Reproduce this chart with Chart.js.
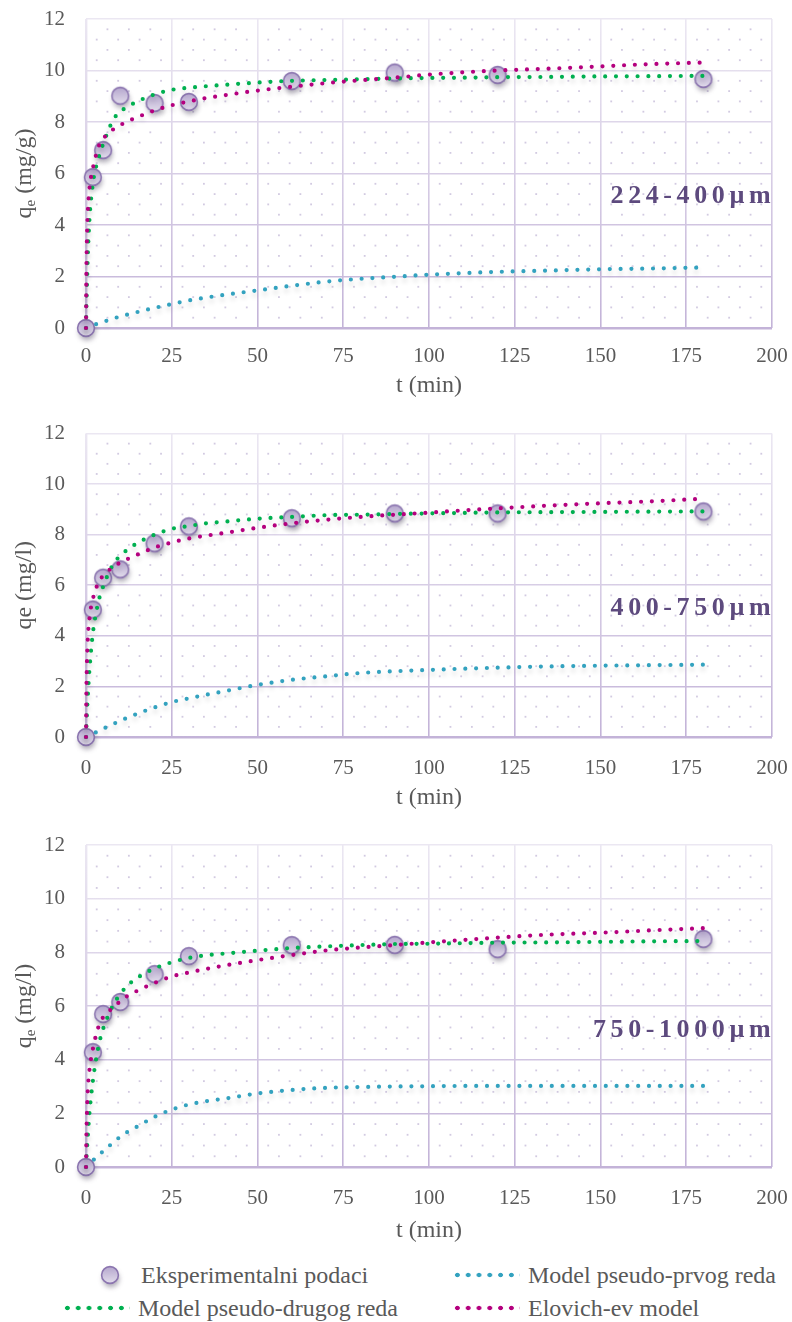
<!DOCTYPE html>
<html>
<head>
<meta charset="utf-8">
<script src="https://cdn.jsdelivr.net/npm/chart.js@4.4.0/dist/chart.umd.min.js"></script>
<style>
html, body { margin: 0; padding: 0; background: #fff; }
body { width: 792px; height: 1322px; position: relative; overflow: hidden; font-family: "Liberation Serif", "DejaVu Serif", serif; color: #595959; }
canvas.panel { position: absolute; left: 0; }
.legend-item { position: absolute; display: flex; align-items: center; height: 30px; font-size: 24px; white-space: nowrap; }
.legend-item img { width: 40px; height: 40px; margin-right: 11px; }
.dots { width: 68px; height: 6px; margin-right: 8px; background-repeat: repeat-x; background-size: 10.8px 6px; }
</style>
</head>
<body>
<canvas class="panel" id="c1" width="792" height="400" style="top:0"></canvas>
<canvas class="panel" id="c2" width="792" height="412" style="top:400px"></canvas>
<canvas class="panel" id="c3" width="792" height="433" style="top:812px"></canvas>

<div class="legend-item" style="left:90px;top:1260px"><img id="legendMarker" alt=""><span>Eksperimentalni podaci</span></div>
<div class="legend-item" style="left:452px;top:1260px"><span class="dots" id="dotsPfo"></span><span>Model pseudo-prvog reda</span></div>
<div class="legend-item" style="left:62px;top:1293px"><span class="dots" id="dotsPso"></span><span>Model pseudo-drugog reda</span></div>
<div class="legend-item" style="left:452px;top:1293px"><span class="dots" id="dotsElo"></span><span>Elovich-ev model</span></div>

<script>
	"use strict";

	// x (min) / y ticks
	const xTicks = [0, 25, 50, 75, 100, 125, 150, 175, 200];
	const yTicks = [0, 2, 4, 6, 8, 10, 12];

	// experimental points
	const expTime = [0, 2, 5, 10, 20, 30, 60, 90, 120, 180];
	const exp224 = [0, 5.86, 6.91, 9.02, 8.74, 8.78, 9.59, 9.92, 9.83, 9.67];
	const exp400 = [0, 5.04, 6.3, 6.63, 7.66, 8.33, 8.65, 8.84, 8.84, 8.92];
	const exp750 = [0, 4.28, 5.7, 6.15, 7.19, 7.86, 8.27, 8.28, 8.12, 8.5];

	// model curves at these times
	const modelTime = [0, 0.1, 0.25, 0.5, 1, 2, 3, 4, 5, 6, 8, 10, 12, 15, 20, 25, 30, 35, 40, 50, 60, 70, 80, 90, 100, 110, 120, 135, 150, 165, 180];

	const pfo224 = [0, 0.005, 0.012, 0.025, 0.05, 0.1, 0.15, 0.19, 0.24, 0.28, 0.37, 0.45, 0.52, 0.62, 0.78, 0.93, 1.07, 1.18, 1.28, 1.46, 1.64, 1.8, 1.91, 1.99, 2.07, 2.13, 2.18, 2.23, 2.28, 2.31, 2.35];
	const pso224 = [0, 0.7, 1.5, 2.7, 4.2, 5.6, 6.3, 6.75, 7.15, 7.5, 8.1, 8.4, 8.58, 8.8, 9.07, 9.25, 9.33, 9.39, 9.44, 9.53, 9.6, 9.63, 9.66, 9.69, 9.71, 9.72, 9.74, 9.75, 9.77, 9.78, 9.79];
	const elo224 = [0, 2.0, 3.3, 4.4, 5.4, 6.2, 6.75, 7.15, 7.35, 7.5, 7.72, 7.88, 8.02, 8.19, 8.45, 8.65, 8.8, 8.93, 9.03, 9.22, 9.37, 9.51, 9.62, 9.72, 9.84, 9.93, 10.0, 10.07, 10.16, 10.25, 10.31];

	const pfo400 = [0, 0.006, 0.016, 0.03, 0.065, 0.13, 0.19, 0.26, 0.33, 0.39, 0.52, 0.64, 0.76, 0.92, 1.17, 1.38, 1.53, 1.67, 1.8, 2.06, 2.26, 2.4, 2.53, 2.6, 2.65, 2.7, 2.74, 2.79, 2.82, 2.84, 2.86];
	const pso400 = [0, 0.35, 0.85, 1.55, 2.65, 4.1, 4.95, 5.55, 5.95, 6.3, 6.85, 7.17, 7.4, 7.67, 8.0, 8.23, 8.34, 8.45, 8.51, 8.63, 8.7, 8.77, 8.79, 8.82, 8.84, 8.86, 8.88, 8.89, 8.9, 8.91, 8.92];
	const elo400 = [0, 1.6, 2.8, 3.8, 4.7, 5.45, 5.9, 6.2, 6.38, 6.52, 6.72, 6.9, 7.03, 7.21, 7.49, 7.69, 7.85, 7.96, 8.06, 8.27, 8.45, 8.59, 8.7, 8.79, 8.87, 8.96, 9.04, 9.15, 9.24, 9.32, 9.42];

	const pfo750 = [0, 0.012, 0.03, 0.06, 0.12, 0.24, 0.36, 0.47, 0.59, 0.7, 0.92, 1.13, 1.3, 1.51, 1.87, 2.14, 2.33, 2.45, 2.54, 2.74, 2.87, 2.95, 2.98, 3.0, 3.01, 3.02, 3.02, 3.02, 3.02, 3.02, 3.02];
	const pso750 = [0, 0.25, 0.6, 1.1, 2.0, 3.2, 4.06, 4.7, 5.15, 5.5, 6.05, 6.45, 6.75, 7.05, 7.4, 7.63, 7.79, 7.89, 7.95, 8.06, 8.16, 8.22, 8.27, 8.31, 8.32, 8.34, 8.36, 8.37, 8.39, 8.41, 8.42];
	const elo750 = [0, 1.0, 1.9, 2.8, 3.6, 4.4, 4.95, 5.35, 5.58, 5.72, 5.95, 6.18, 6.37, 6.57, 6.86, 7.1, 7.25, 7.38, 7.5, 7.71, 7.9, 8.07, 8.18, 8.27, 8.37, 8.46, 8.55, 8.66, 8.73, 8.82, 8.9];

	const sizeLabels = ['224-400µm', '400-750µm', '750-1000µm'];

	const GREEN = '#00b050';
	const MAGENTA = '#b4007e';
	const TEAL = '#33a2bf';
	const TEXT = '#595959';
	const FONT = '"Liberation Serif", "DejaVu Serif", serif';

	const panels = [
		{ id: 'c1', plotTop: 19, plotBottom: 328, tickPad: 16, titlePad: 0, exp: exp224, pfo: pfo224, pso: pso224, elo: elo224, label: sizeLabels[0], yTitle: [['q', false], ['e', true], [' (mg/g)', false]] },
		{ id: 'c2', plotTop: 33.5, plotBottom: 337, tickPad: 19, titlePad: 0, exp: exp400, pfo: pfo400, pso: pso400, elo: elo400, label: sizeLabels[1], yTitle: [['qe (mg/l)', false]] },
		{ id: 'c3', plotTop: 33, plotBottom: 355, tickPad: 19, titlePad: 0, exp: exp750, pfo: pfo750, pso: pso750, elo: elo750, label: sizeLabels[2], yTitle: [['q', false], ['e', true], [' (mg/l)', false]] }
	];

	// marker image used for the experimental points and the legend
	function makeMarker() {
		const c = document.createElement('canvas');
		c.width = 40; c.height = 40;
		const g = c.getContext('2d');
		const grad = g.createLinearGradient(0, 11, 0, 29);
		grad.addColorStop(0, '#b3a4cc');
		grad.addColorStop(1, '#e4dfed');
		g.shadowColor = 'rgba(50,40,70,0.38)';
		g.shadowBlur = 5;
		g.shadowOffsetX = 1;
		g.shadowOffsetY = 4;
		g.beginPath();
		g.arc(20, 20, 8.4, 0, Math.PI * 2);
		g.fillStyle = grad;
		g.fill();
		g.shadowColor = 'transparent';
		g.lineWidth = 1.6;
		g.strokeStyle = '#8c76b0';
		g.stroke();
		return c;
	}
	const marker = makeMarker();

	function pairs(xs, ys) {
		return xs.map((x, i) => ({ x: x, y: ys[i] }));
	}

	function curve(label, values, color, order) {
		return {
			label: label,
			data: pairs(modelTime, values),
			showLine: true,
			borderColor: color,
			backgroundColor: color,
			borderWidth: 4.2,
			borderDash: [0, 10.8],
			borderCapStyle: 'round',
			pointRadius: 0,
			cubicInterpolationMode: 'monotone',
			fill: false,
			clip: false,
			order: order
		};
	}

	function gridColor(ctx) {
		const chart = ctx.chart;
		const a = chart.chartArea;
		if (!a) return '#ddd6e8';
		const g = chart.ctx.createLinearGradient(0, a.top, 0, a.bottom);
		g.addColorStop(0, '#ebe7f2');
		g.addColorStop(1, '#c3b3d8');
		return g;
	}

	// staggered dot pattern inside the plot area
	const gridDots = {
		id: 'gridDots',
		beforeDatasetsDraw(chart) {
			const ctx = chart.ctx;
			const xs = chart.scales.x, ys = chart.scales.y;
			ctx.save();
			ctx.fillStyle = 'rgba(165,150,195,0.5)';
			for (let j = 1; j < 30; j++) {
				if (j % 5 === 0) continue;
				const py = ys.getPixelForValue(j * 0.4);
				for (let i = 1 + (j % 2); i < 64; i += 2) {
					if (i % 8 === 0) continue;
					const px = xs.getPixelForValue(i * 25 / 8);
					ctx.fillRect(px - 0.9, py - 0.9, 1.8, 1.8);
				}
			}
			ctx.restore();
		}
	};

	// soft shadow under the model curves
	const lineShadow = {
		id: 'lineShadow',
		beforeDatasetDraw(chart, args) {
			if (!chart.data.datasets[args.index].showLine) return;
			const ctx = chart.ctx;
			ctx.save();
			ctx.shadowColor = 'rgba(0,0,0,0.16)';
			ctx.shadowBlur = 5;
			ctx.shadowOffsetY = 4;
		},
		afterDatasetDraw(chart, args) {
			if (!chart.data.datasets[args.index].showLine) return;
			chart.ctx.restore();
		}
	};

	// y title with subscript + size label
	const extraText = {
		id: 'extraText',
		afterDraw(chart, args, opts) {
			const ctx = chart.ctx;
			const a = chart.chartArea;
			const xs = chart.scales.x, ys = chart.scales.y;

			ctx.save();
			const big = '24px ' + FONT, small = '15px ' + FONT;
			let total = 0;
			opts.yTitle.forEach(p => {
				ctx.font = p[1] ? small : big;
				total += ctx.measureText(p[0]).width;
			});
			ctx.translate(23, (a.top + a.bottom) / 2);
			ctx.rotate(-Math.PI / 2);
			ctx.fillStyle = TEXT;
			ctx.textBaseline = 'alphabetic';
			let x = -total / 2;
			opts.yTitle.forEach(p => {
				ctx.font = p[1] ? small : big;
				ctx.fillText(p[0], x, p[1] ? 12 : 8);
				x += ctx.measureText(p[0]).width;
			});
			ctx.restore();

			ctx.save();
			const spacing = 4.6;
			ctx.font = 'bold 26px ' + FONT;
			ctx.letterSpacing = spacing + 'px';
			ctx.fillStyle = '#5d4a7e';
			ctx.textAlign = 'left';
			ctx.textBaseline = 'middle';
			const w = ctx.measureText(opts.label).width - spacing;
			ctx.fillText(opts.label, xs.getPixelForValue(199.6) - w, ys.getPixelForValue(5.1));
			ctx.restore();
		}
	};

	panels.forEach(p => {
		const canvas = document.getElementById(p.id);
		const h = canvas.height;
		new Chart(canvas, {
			type: 'scatter',
			data: {
				datasets: [
					{
						label: 'Eksperimentalni podaci',
						data: pairs(expTime, p.exp),
						pointStyle: marker,
						pointRadius: 9,
						clip: false,
						order: 4
					},
					curve('Model pseudo-prvog reda', p.pfo, TEAL, 3),
					curve('Model pseudo-drugog reda', p.pso, GREEN, 2),
					curve('Elovich-ev model', p.elo, MAGENTA, 1)
				]
			},
			options: {
				responsive: false,
				animation: false,
				events: [],
				layout: { autoPadding: false, padding: { top: p.plotTop, right: 20, left: 0, bottom: 0 } },
				scales: {
					x: {
						type: 'linear',
						min: 0,
						max: 200,
						afterBuildTicks: s => { s.ticks = xTicks.map(v => ({ value: v })); },
						// fixed axis height, no extra label overhang
						afterFit: s => { s.height = h - p.plotBottom; s.paddingLeft = 0; s.paddingRight = 0; },
						grid: { color: gridColor, lineWidth: c => c.tick && c.tick.value === 0 ? 2.4 : 1.6, drawTicks: false },
						border: { display: false },
						ticks: { color: TEXT, font: { family: FONT, size: 21 }, padding: p.tickPad, maxRotation: 0 },
						title: { display: true, text: 't (min)', color: TEXT, font: { family: FONT, size: 24 }, padding: { top: 0, bottom: p.titlePad } }
					},
					y: {
						type: 'linear',
						min: 0,
						max: 12,
						afterBuildTicks: s => { s.ticks = yTicks.map(v => ({ value: v })); },
						afterFit: s => { s.width = 86; s.paddingTop = 0; s.paddingBottom = 0; },
						grid: { color: gridColor, lineWidth: c => c.tick && c.tick.value === 0 ? 2.4 : 1.6, drawTicks: false },
						border: { display: false },
						ticks: { color: TEXT, font: { family: FONT, size: 21 }, padding: 21 }
					}
				},
				plugins: {
					legend: { display: false },
					tooltip: { enabled: false },
					extraText: { yTitle: p.yTitle, label: p.label }
				}
			},
			plugins: [gridDots, lineShadow, extraText]
		});
	});

	// legend symbols
	document.getElementById('legendMarker').src = marker.toDataURL();
	[['dotsPfo', TEAL], ['dotsPso', GREEN], ['dotsElo', MAGENTA]].forEach(d => {
		document.getElementById(d[0]).style.backgroundImage =
			'radial-gradient(circle at center, ' + d[1] + ' 2px, transparent 2.6px)';
	});
</script>
</body>
</html>
